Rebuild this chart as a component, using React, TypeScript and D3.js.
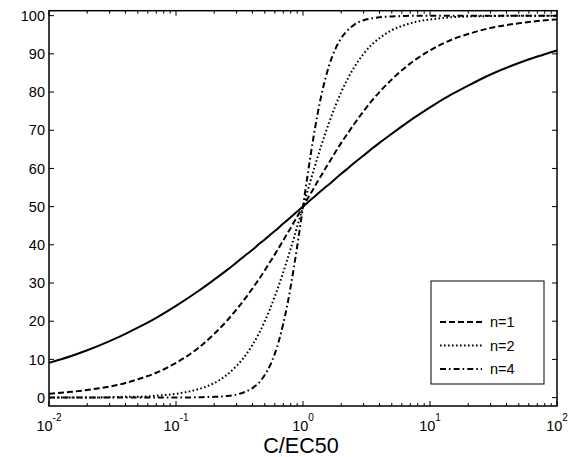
import React from "react";
import * as d3 from "d3";

const concentrations = [0.01,0.015,0.02,0.03,0.04,0.05,0.07,0.1,0.15,0.2,0.25,0.3,0.35,0.4,0.45,0.5,0.55,0.6,0.65,0.7,0.75,0.8,0.85,0.9,0.95,1,1.1,1.2,1.3,1.4,1.5,1.6,1.8,2,2.25,2.5,3,3.5,4,5,6,7,8,10,15,20,30,50,70,100];
const responseN05 = [9.1,10.9,12.4,14.8,16.7,18.3,20.9,24.0,27.9,30.9,33.3,35.4,37.2,38.7,40.2,41.4,42.6,43.6,44.6,45.6,46.4,47.2,48.0,48.7,49.4,50,51.2,52.3,53.3,54.2,55.1,55.8,57.3,58.6,60.0,61.3,63.4,65.2,66.7,69.1,71.0,72.6,73.9,76.0,79.5,81.7,84.6,87.6,89.3,90.9];
const responseN1 = [1.0,1.5,2.0,2.9,3.8,4.8,6.5,9.1,13.0,16.7,20.0,23.1,25.9,28.6,31.0,33.3,35.5,37.5,39.4,41.2,42.9,44.4,46.0,47.4,48.7,50,52.4,54.5,56.5,58.3,60.0,61.5,64.3,66.7,69.2,71.4,75.0,77.8,80.0,83.3,85.7,87.5,88.9,90.9,93.8,95.2,96.8,98.0,98.6,99.0];
const responseN2 = [0.0,0.0,0.0,0.1,0.2,0.2,0.5,1.0,2.2,3.8,5.9,8.3,10.9,13.8,16.8,20.0,23.2,26.5,29.7,32.9,36.0,39.0,41.9,44.8,47.4,50,54.8,59.0,62.8,66.2,69.2,71.9,76.4,80.0,83.5,86.2,90.0,92.5,94.1,96.2,97.3,98.0,98.5,99.0,99.6,99.8,99.9,100,100,100];
const responseN4 = [0,0,0,0,0,0,0,0,0.1,0.2,0.4,0.8,1.5,2.5,3.9,5.9,8.4,11.5,15.2,19.4,24.0,29.1,34.3,39.6,44.9,50,59.4,67.5,74.1,79.4,83.5,86.8,91.3,94.1,96.2,97.5,98.8,99.3,99.6,99.8,99.9,100,100,100,100,100,100,100,100,100];

const yTicks = [0,10,20,30,40,50,60,70,80,90,100];
const xMajorTicks = [0.01,0.1,1,10,100];
const xTickExponents = ["-2","-1","0","1","2"];
const legendLabels = ["n=1","n=2","n=4"];
const xLabel = "C/EC50";

const FONT = "'Liberation Sans', Arial, Helvetica, sans-serif";

const seriesStyles = [
  { data: responseN05, dash: "none" },
  { data: responseN1, dash: "6,3" },
  { data: responseN2, dash: "1.6,2.4" },
  { data: responseN4, dash: "6,3,1.6,3" },
];

export default function App() {
  const L = 49, R = 557, T = 10.7, B = 406;
  const x = d3.scaleLog().domain([0.01, 100]).range([L, R]);
  const y = d3.scaleLinear().domain([-2.2, 101.3]).range([B, T]);

  const line = (vals: number[]) =>
    d3.line<number>()
      .x((_, i) => x(concentrations[i]))
      .y((v) => y(v))
      .curve(d3.curveMonotoneX)(vals) || "";

  const minorTicks: number[] = [];
  for (let e = -2; e < 2; e++) {
    for (let m = 2; m <= 9; m++) minorTicks.push(m * Math.pow(10, e));
  }

  const legendRows = [322, 345.5, 369];

  return (
    <div style={{ position: "absolute", left: 0, top: 0 }}>
      <svg width={571} height={457} style={{ display: "block", background: "#fff" }} fontFamily={FONT}>
        <rect x={0} y={0} width={571} height={457} fill="#fff" />
        {seriesStyles.map((s, i) => (
          <path key={i} d={line(s.data)} fill="none" stroke="#000" strokeWidth={2}
            strokeDasharray={s.dash} strokeLinejoin="round" />
        ))}
        <rect x={L} y={T} width={R - L} height={B - T} fill="none" stroke="#000" strokeWidth={1.5} />
        {yTicks.map((t) => (
          <g key={"y" + t}>
            <line x1={L} x2={L + 5} y1={y(t)} y2={y(t)} stroke="#000" strokeWidth={1} />
            <line x1={R} x2={R - 5} y1={y(t)} y2={y(t)} stroke="#000" strokeWidth={1} />
            <text x={L - 4} y={y(t)} dy="0.36em" textAnchor="end" fontSize={14.5}>{t}</text>
          </g>
        ))}
        {xMajorTicks.map((t, i) => (
          <g key={"x" + t}>
            <line x1={x(t)} x2={x(t)} y1={B} y2={B - 5} stroke="#000" strokeWidth={1} />
            <line x1={x(t)} x2={x(t)} y1={T} y2={T + 5} stroke="#000" strokeWidth={1} />
            <text x={x(t)} y={430.5} textAnchor="middle" fontSize={14.5}>
              <tspan>10</tspan>
              <tspan dy={-9.5} fontSize={10}>{xTickExponents[i]}</tspan>
            </text>
          </g>
        ))}
        {minorTicks.map((t) => (
          <g key={"m" + t}>
            <line x1={x(t)} x2={x(t)} y1={B} y2={B - 3} stroke="#000" strokeWidth={1} />
            <line x1={x(t)} x2={x(t)} y1={T} y2={T + 3} stroke="#000" strokeWidth={1} />
          </g>
        ))}
        <text x={(L + R) / 2 - 2} y={453} textAnchor="middle" fontSize={21.5}>{xLabel}</text>
        <rect x={431} y={281} width={113} height={103} fill="#fff" stroke="#000" strokeWidth={1} />
        {legendLabels.map((lab, i) => (
          <g key={lab}>
            <line x1={440} x2={482} y1={legendRows[i]} y2={legendRows[i]} stroke="#000" strokeWidth={2}
              strokeDasharray={seriesStyles[i + 1].dash} />
            <text x={490} y={legendRows[i]} dy="0.36em" fontSize={14.5}>{lab}</text>
          </g>
        ))}
      </svg>
    </div>
  );
}
